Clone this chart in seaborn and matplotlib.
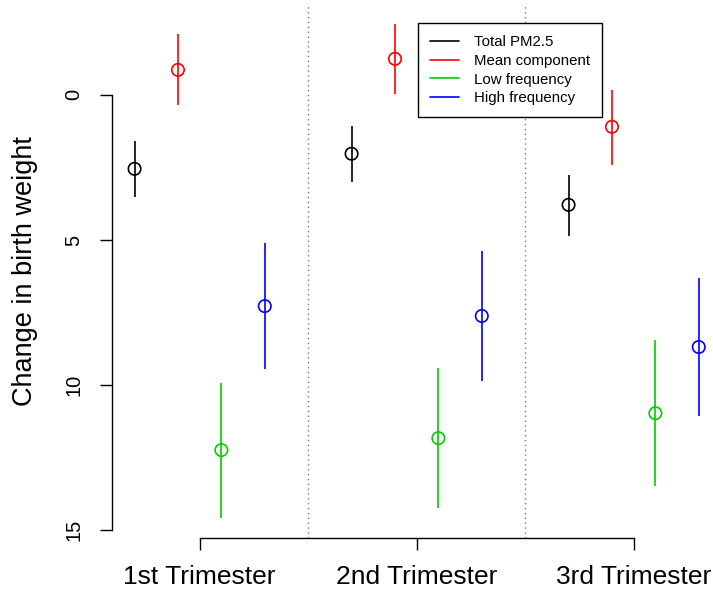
import pandas as pd
import numpy as np
import matplotlib
matplotlib.use("Agg")
import matplotlib.pyplot as plt
import seaborn as sns

# values (y axis is reversed, 0 at the top)
trimesters = ["1st Trimester", "2nd Trimester", "3rd Trimester"]
components = ["Total PM2.5", "Mean component", "Low frequency", "High frequency"]
colors = ["black", "red", "#00CD00", "blue"]

est_total = [2.55, 2.03, 3.79]
lo_total = [1.59, 1.07, 2.76]
hi_total = [3.52, 3.00, 4.86]

est_mean = [-0.86, -1.24, 1.10]
lo_mean = [-2.10, -2.45, -0.17]
hi_mean = [0.34, -0.03, 2.41]

est_low = [12.24, 11.83, 10.97]
lo_low = [9.93, 9.41, 8.45]
hi_low = [14.59, 14.24, 13.48]

est_high = [7.28, 7.62, 8.69]
lo_high = [5.10, 5.38, 6.30]
hi_high = [9.45, 9.86, 11.07]

rows = []
series = [(est_total, lo_total, hi_total), (est_mean, lo_mean, hi_mean),
          (est_low, lo_low, hi_low), (est_high, lo_high, hi_high)]
offsets = [-1.5, -0.5, 0.5, 1.5]
for ci, (est, lo, hi) in enumerate(series):
    for ti, t in enumerate(trimesters):
        rows.append({"trimester": t, "component": components[ci],
                     "x": ti * 5 + offsets[ci], "est": est[ti],
                     "lo": lo[ti], "hi": hi[ti]})
df = pd.DataFrame(rows)

sns.set_style("ticks")
plt.rcParams['font.family'] = ['Liberation Sans', 'DejaVu Sans']
plt.rcParams['text.color'] = 'black'
plt.rcParams['xtick.color'] = 'black'
plt.rcParams['ytick.color'] = 'black'
plt.rcParams['xtick.labelcolor'] = 'black'
plt.rcParams['ytick.labelcolor'] = 'black'

W, H = 713, 589
fig = plt.figure(figsize=(W / 100, H / 100), dpi=100)
ax = fig.add_axes([112 / W, 1 - 538 / H, 1 - 112 / W, (538 - 4) / H])

palette = dict(zip(components, colors))
for comp in components:
    sub = df[df["component"] == comp]
    ax.vlines(sub["x"], sub["lo"], sub["hi"], color=palette[comp], lw=1.2)

sns.scatterplot(data=df, x="x", y="est", hue="component", palette=palette,
                marker="o", s=80, linewidth=1.2, legend=False, ax=ax)
# seaborn fills markers; make them open circles
for coll in ax.collections[len(components):]:
    coll.set_facecolor("none")
    coll.set_edgecolor([palette[c] for c in df["component"]])

for sep in [2.5, 7.5]:
    ax.axvline(sep, color="#777777", ls=(0, (1, 2.5)), lw=1.0)

ax.set_xlim(-2.02, -2.02 + (W - 112) / 43.4)
ax.set_ylim(15.27, -3.13)

ax.set_xticks([0, 5, 10])
ax.set_xticklabels(trimesters, fontsize=19)
ax.set_yticks([0, 5, 10, 15])
ax.set_yticklabels(["0", "5", "10", "15"], fontsize=14.5, rotation=90, va="center")
ax.tick_params(axis="both", length=8.6, width=1.0, color="black")
ax.tick_params(axis="x", pad=11)
ax.tick_params(axis="y", pad=12)
ax.set_xlabel("")
ax.set_ylabel("")

sns.despine(ax=ax, top=True, right=True)
for side in ["left", "bottom"]:
    ax.spines[side].set_color("black")
    ax.spines[side].set_linewidth(1.0)
ax.spines["left"].set_bounds(0, 15)
ax.spines["bottom"].set_bounds(0, 10)

fig.text(25 / W, 1 - 271 / H, "Change in birth weight", rotation=90,
         ha="center", va="center", fontsize=19.5)

handles = [plt.Line2D([], [], color=c, lw=1.2) for c in colors]
leg = fig.legend(handles, components, loc="upper left",
                 bbox_to_anchor=(418 / W, 1 - 23 / H), fontsize=10.8,
                 frameon=True, fancybox=False, handlelength=1.9,
                 handletextpad=1.0, labelspacing=0.32, borderpad=0.8,
                 borderaxespad=0)
leg.get_frame().set_edgecolor("black")
leg.get_frame().set_linewidth(1.0)
leg.get_frame().set_alpha(1)

fig.savefig("out.png", dpi=100)
